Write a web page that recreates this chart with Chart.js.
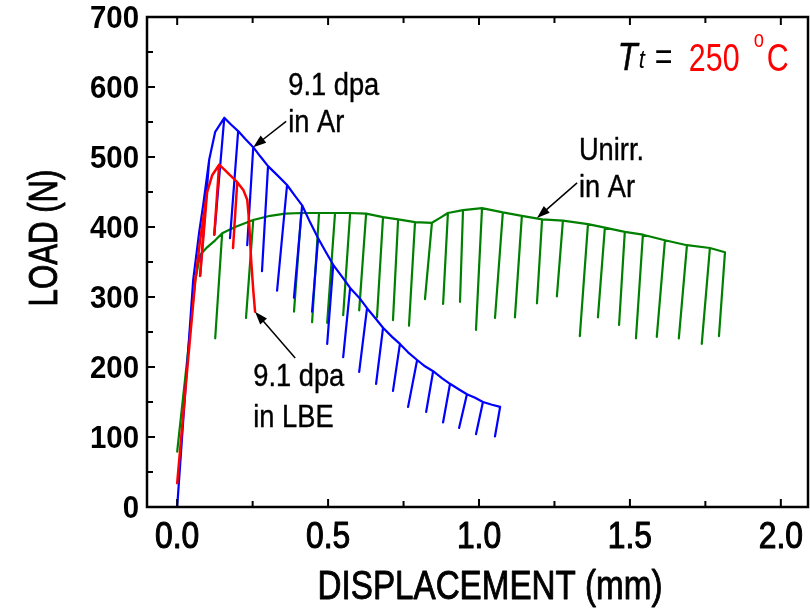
<!DOCTYPE html>
<html>
<head>
<meta charset="utf-8">
<script src="https://cdn.jsdelivr.net/npm/chart.js@4.4.1/dist/chart.umd.min.js"></script>
<style>
  html, body { margin: 0; padding: 0; background: #fff; }
  #wrap { width: 810px; height: 608px; }
</style>
</head>
<body>
<div id="wrap"><canvas id="chartLoad" width="810" height="608"></canvas></div>
<script>
// Load-displacement curves with periodic unloading, T = 250 C
const SANS = '"Liberation Sans", Arial, sans-serif';

// axis ticks
const xTicks = [0, 0.5, 1.0, 1.5, 2.0];
const xMinor = [0.25, 0.75, 1.25, 1.75];
const yTicks = [0, 100, 200, 300, 400, 500, 600, 700];
const yMinor = [50, 150, 250, 350, 450, 550, 650];

// 9.1 dpa in Ar (blue): envelope + unloading legs
const blueEnvX = [0, 0.026, 0.053, 0.073, 0.086, 0.106, 0.126, 0.156, 0.179, 0.202, 0.225, 0.252, 0.275, 0.301, 0.334, 0.364, 0.391, 0.414, 0.440, 0.467, 0.493, 0.517, 0.546, 0.573, 0.603, 0.629, 0.656, 0.682, 0.712, 0.738, 0.765, 0.795, 0.821, 0.848, 0.877, 0.904, 0.930, 0.960, 0.987, 1.013, 1.043, 1.070];
const blueEnvY = [0, 160, 324, 393, 431, 496, 536, 556, 546, 537, 526, 514, 501, 487, 473, 460, 444, 431, 407, 384, 364, 346, 329, 313, 299, 284, 270, 256, 243, 233, 221, 210, 201, 194, 184, 176, 169, 161, 156, 150, 146, 143];
const blueUnloadAt = [5, 7, 9, 11, 13, 15, 17, 19, 21, 23, 25, 27, 29, 31, 33, 35, 37, 39, 41];
const blueUnloadX = [0.076, 0.123, 0.175, 0.232, 0.281, 0.331, 0.387, 0.447, 0.497, 0.550, 0.603, 0.659, 0.715, 0.765, 0.825, 0.881, 0.934, 0.990, 1.053];
const blueUnloadY = [331, 389, 384, 374, 337, 309, 299, 279, 233, 214, 193, 176, 166, 143, 136, 121, 113, 104, 101];

// 9.1 dpa in LBE (red)
const redEnvX = [0, 0.030, 0.060, 0.076, 0.099, 0.116, 0.139, 0.159, 0.175, 0.199, 0.219, 0.232, 0.238, 0.245, 0.252, 0.258];
const redEnvY = [34, 181, 324, 381, 449, 474, 489, 481, 474, 464, 453, 439, 410, 353, 310, 279];
const redUnloadAt = [4, 6, 9];
const redUnloadX = [0.076, 0.123, 0.185];
const redUnloadY = [330, 389, 370];

// Unirr. in Ar (green)
const greenEnvX = [0, 0.033, 0.060, 0.076, 0.099, 0.126, 0.149, 0.192, 0.252, 0.308, 0.358, 0.411, 0.470, 0.523, 0.573, 0.626, 0.682, 0.732, 0.788, 0.844, 0.871, 0.897, 0.947, 1.010, 1.079, 1.142, 1.209, 1.278, 1.361, 1.417, 1.483, 1.543, 1.616, 1.689, 1.765, 1.815];
const greenEnvY = [79, 210, 324, 360, 371, 381, 391, 400, 410, 416, 419, 420, 420, 420, 420, 419, 414, 411, 407, 406, 413, 420, 424, 427, 421, 416, 411, 409, 404, 399, 393, 389, 381, 374, 370, 364];
const greenUnloadAt = [6, 8, 11, 12, 13, 14, 15, 16, 17, 18, 19, 21, 22, 23, 24, 25, 26, 27, 28, 29, 30, 31, 32, 33, 34, 35];
const greenUnloadX = [0.126, 0.228, 0.387, 0.447, 0.497, 0.550, 0.603, 0.662, 0.715, 0.768, 0.821, 0.881, 0.937, 0.990, 1.053, 1.119, 1.192, 1.258, 1.334, 1.394, 1.464, 1.520, 1.589, 1.662, 1.738, 1.795];
const greenUnloadY = [241, 270, 279, 264, 263, 274, 281, 271, 267, 259, 297, 290, 293, 253, 270, 271, 291, 301, 244, 271, 260, 241, 243, 241, 233, 244];

// walk the envelope, dropping down each unloading leg and back up
function buildPath(envX, envY, at, ux, uy) {
    const pts = [];
    envX.forEach((x, i) => {
        pts.push({ x: x, y: envY[i] });
        const k = at.indexOf(i);
        if (k >= 0) {
            pts.push({ x: ux[k], y: uy[k] });
            if (i < envX.length - 1) pts.push({ x: x, y: envY[i] });
        }
    });
    return pts;
}

function line(data, color, width) {
    return { data: data, showLine: true, borderColor: color, borderWidth: width,
             pointRadius: 0, tension: 0, fill: false, borderJoinStyle: 'round', borderCapStyle: 'round' };
}

// text notes and arrows, in data units
const notes = [
    { lines: ['9.1 dpa', 'in Ar'], x: 0.368, y: [589, 536], arrow: [0.361, 551, 0.252, 514] },
    { lines: ['Unirr.', 'in Ar'], x: 1.331, y: [496, 443], arrow: [1.325, 463, 1.192, 413] },
    { lines: ['9.1 dpa', 'in LBE'], x: 0.252, y: [173, 114], arrow: [0.391, 213, 0.258, 279] }
];

// no narrow face installed: squeeze Liberation Sans horizontally, optional outline for weight
function txt(ctx, s, x, y, font, sx, align, heavy) {
    ctx.save();
    ctx.font = font;
    ctx.textAlign = align || 'left';
    ctx.textBaseline = 'alphabetic';
    ctx.translate(x, y);
    ctx.scale(sx, 1);
    ctx.fillText(s, 0, 0);
    if (heavy) {
        ctx.strokeStyle = ctx.fillStyle;
        ctx.lineWidth = heavy;
        ctx.lineJoin = 'round';
        ctx.strokeText(s, 0, 0);
    }
    ctx.restore();
}

function arrow(ctx, x1, y1, x2, y2) {
    const a = Math.atan2(y2 - y1, x2 - x1), L = 13, W = 4.5;
    ctx.beginPath();
    ctx.moveTo(x1, y1);
    ctx.lineTo(x2 - Math.cos(a) * L * 0.8, y2 - Math.sin(a) * L * 0.8);
    ctx.stroke();
    ctx.beginPath();
    ctx.moveTo(x2, y2);
    ctx.lineTo(x2 - L * Math.cos(a) + W * Math.sin(a), y2 - L * Math.sin(a) - W * Math.cos(a));
    ctx.lineTo(x2 - L * Math.cos(a) - W * Math.sin(a), y2 - L * Math.sin(a) + W * Math.cos(a));
    ctx.closePath();
    ctx.fill();
}

const decor = {
    id: 'decor',
    afterDraw(chart) {
        const { ctx, chartArea: ca, scales: { x, y } } = chart;
        ctx.save();
        ctx.strokeStyle = '#000';
        ctx.fillStyle = '#000';
        // frame
        ctx.lineWidth = 2.5;
        ctx.strokeRect(ca.left, ca.top, ca.right - ca.left, ca.bottom - ca.top);
        // inward ticks
        ctx.lineWidth = 2;
        ctx.beginPath();
        yTicks.concat(yMinor).forEach(v => {
            const p = y.getPixelForValue(v), len = v % 100 === 0 ? 8 : 6;
            ctx.moveTo(ca.left, p); ctx.lineTo(ca.left + len, p);
        });
        xTicks.concat(xMinor).forEach(v => {
            const p = x.getPixelForValue(v), len = xTicks.includes(v) ? 8 : 6;
            ctx.moveTo(p, ca.bottom); ctx.lineTo(p, ca.bottom - len);
            ctx.moveTo(p, ca.top); ctx.lineTo(p, ca.top + len);
        });
        ctx.stroke();

        // tick labels
        yTicks.forEach(v => txt(ctx, String(v), ca.left - 8, y.getPixelForValue(v) + 11,
                                'bold 32px ' + SANS, 0.92, 'right'));
        xTicks.forEach(v => txt(ctx, v.toFixed(1), x.getPixelForValue(v), ca.bottom + 41,
                                '37px ' + SANS, 0.86, 'center', 1.1));

        // axis titles
        txt(ctx, 'DISPLACEMENT (mm)', 490, 599, '40px ' + SANS, 0.83, 'center', 0.9);
        ctx.save();
        ctx.translate(57, 238);
        ctx.rotate(-Math.PI / 2);
        txt(ctx, 'LOAD (N)', 0, 0, '40px ' + SANS, 0.78, 'center', 0.9);
        ctx.restore();

        // notes with arrows
        ctx.lineWidth = 1.5;
        notes.forEach(n => {
            n.lines.forEach((t, i) => txt(ctx, t, x.getPixelForValue(n.x), y.getPixelForValue(n.y[i]),
                                          '31px ' + SANS, 0.88, 'left', 0.4));
            const a = n.arrow;
            arrow(ctx, x.getPixelForValue(a[0]), y.getPixelForValue(a[1]),
                       x.getPixelForValue(a[2]), y.getPixelForValue(a[3]));
        });

        // Tt = 250 oC
        const tx = x.getPixelForValue(1.460), ty = y.getPixelForValue(624);
        txt(ctx, 'T', tx, ty, 'italic 38px ' + SANS, 0.85, 'left', 0.6);
        txt(ctx, 't', tx + 21, ty - 2, 'italic 26px ' + SANS, 0.85);
        txt(ctx, '=', tx + 37, ty, '38px ' + SANS, 0.8);
        ctx.fillStyle = '#ff0000';
        txt(ctx, '250', tx + 71, ty + 1, '38px ' + SANS, 0.8);
        txt(ctx, 'o', tx + 136, ty - 23, '23px ' + SANS, 0.8);
        txt(ctx, 'C', tx + 149, ty + 1, '38px ' + SANS, 0.8);
        ctx.restore();
    }
};

new Chart(document.getElementById('chartLoad'), {
    type: 'scatter',
    data: {
        datasets: [
            line(buildPath(redEnvX, redEnvY, redUnloadAt, redUnloadX, redUnloadY), '#ff0000', 2.5),
            line(buildPath(blueEnvX, blueEnvY, blueUnloadAt, blueUnloadX, blueUnloadY), '#0000ff', 2.2),
            line(buildPath(greenEnvX, greenEnvY, greenUnloadAt, greenUnloadX, greenUnloadY), '#008000', 2.2)
        ]
    },
    options: {
        responsive: false,
        animation: false,
        events: [],
        layout: { padding: { top: 17, right: 2, left: 0, bottom: 0 } },
        plugins: { legend: { display: false }, tooltip: { enabled: false } },
        scales: {
            x: {
                type: 'linear', min: -0.1, max: 2.09,
                grid: { display: false, drawTicks: false }, border: { display: false },
                afterBuildTicks: s => { s.ticks = xTicks.map(v => ({ value: v })); },
                afterFit: s => { s.height = 101; },
                ticks: { display: false }
            },
            y: {
                min: 0, max: 700,
                grid: { display: false, drawTicks: false }, border: { display: false },
                afterBuildTicks: s => { s.ticks = yTicks.map(v => ({ value: v })); },
                afterFit: s => { s.width = 147; },
                ticks: { display: false }
            }
        }
    },
    plugins: [decor]
});
</script>
</body>
</html>
